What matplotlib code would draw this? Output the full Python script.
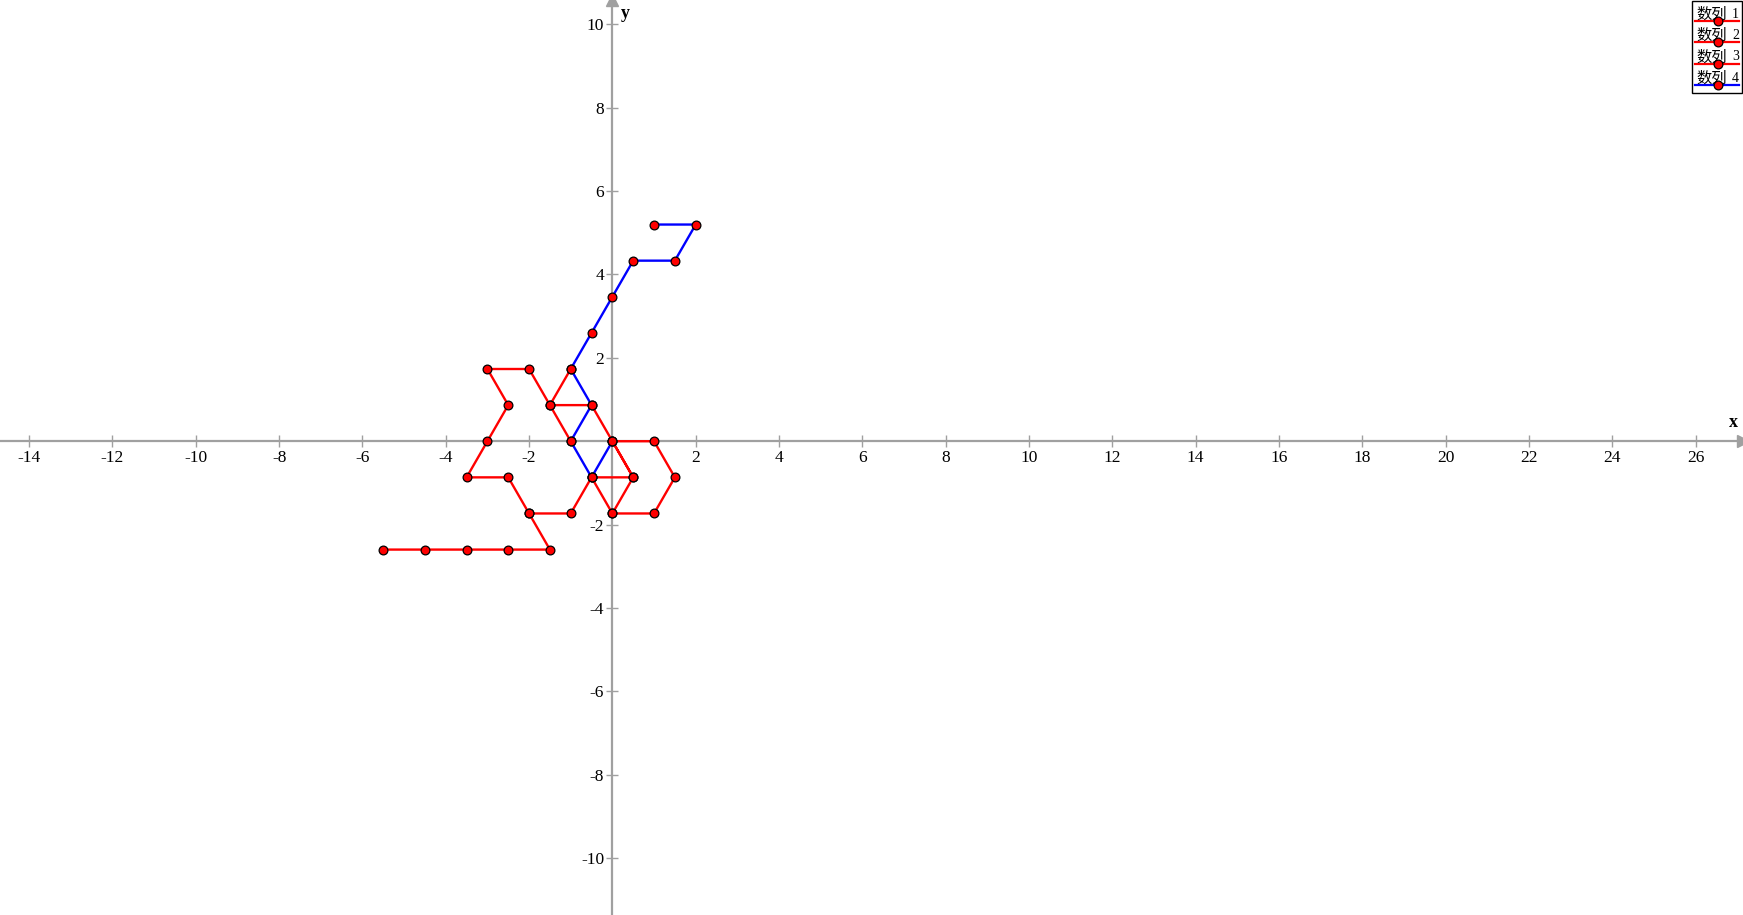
import matplotlib.pyplot as plt
from matplotlib.patches import Rectangle
from matplotlib.lines import Line2D

plt.rcParams['axes.unicode_minus'] = False

# series data (hexagonal lattice points)
s1_x = [-5.5, -4.5, -3.5, -2.5, -1.5, -2.0, -2.5, -3.5, -3.0, -2.5, -3.0, -2.0, -1.5, -1.0]
s1_y = [-2.598, -2.598, -2.598, -2.598, -2.598, -1.732, -0.866, -0.866, 0.0, 0.866, 1.732, 1.732, 0.866, 1.732]

s2_x = [-1.0, -1.5, -0.5, 0.0, 1.0, 1.5, 1.0, 0.0]
s2_y = [0.0, 0.866, 0.866, 0.0, 0.0, -0.866, -1.732, -1.732]

s3_x = [-2.0, -1.0, -0.5, 0.0, 0.5, 0.0, 0.5, -0.5]
s3_y = [-1.732, -1.732, -0.866, -1.732, -0.866, 0.0, -0.866, -0.866]

s4_x = [0.0, -0.5, -1.0, -0.5, -1.0, -0.5, 0.0, 0.5, 1.5, 2.0, 1.0]
s4_y = [0.0, -0.866, 0.0, 0.866, 1.732, 2.598, 3.464, 4.33, 4.33, 5.196, 5.196]

series_names = ["1", "2", "3", "4"]
series_colors = ["#ff0000", "#ff0000", "#ff0000", "#0000ff"]

x_ticks = [t for t in range(-14, 27, 2) if t != 0]
y_ticks = [t for t in range(-10, 11, 2) if t != 0]

W, H = 1743, 915
fig = plt.figure(figsize=(W / 100, H / 100), dpi=100)
ax = fig.add_axes([0, 0, 1, 1])
ax.set_xlim(-14.70, 27.14)
ax.set_ylim(-11.36, 10.58)

axis_gray = "#a0a0a0"
for side in ("top", "right"):
    ax.spines[side].set_visible(False)
for side in ("left", "bottom"):
    ax.spines[side].set_position("zero")
    ax.spines[side].set_color(axis_gray)
    ax.spines[side].set_linewidth(1.6)

ax.set_xticks(x_ticks)
ax.set_yticks(y_ticks)
ax.set_xticklabels([str(t) for t in x_ticks])
ax.set_yticklabels([str(t) for t in y_ticks])
ax.tick_params(direction="inout", length=8, width=1, color=axis_gray,
               labelsize=12.5, pad=2)
for lab in ax.get_xticklabels() + ax.get_yticklabels():
    lab.set_family("Liberation Serif")

# arrowheads and axis names
ax.plot(1, 0, ">", color=axis_gray, markersize=8, transform=ax.get_yaxis_transform(), clip_on=False)
ax.plot(0, 1, "^", color=axis_gray, markersize=8, transform=ax.get_xaxis_transform(), clip_on=False)
ax.text(0.9945, 0.25, "x", transform=ax.get_yaxis_transform(), ha="center", va="bottom",
        family="Liberation Serif", fontweight="bold", fontsize=13)
ax.text(0.2, 0.995, "y", transform=ax.get_xaxis_transform(), ha="left", va="top",
        family="Liberation Serif", fontweight="bold", fontsize=13)

for xs, ys, c in zip([s1_x, s2_x, s3_x, s4_x], [s1_y, s2_y, s3_y, s4_y], series_colors):
    ax.plot(xs, ys, color=c, linewidth=1.7, zorder=3)
for xs, ys in zip([s1_x, s2_x, s3_x, s4_x], [s1_y, s2_y, s3_y, s4_y]):
    ax.plot(xs, ys, linestyle="none", marker="o", markersize=6.3,
            markerfacecolor="#ff0000", markeredgecolor="black", markeredgewidth=0.9, zorder=4)

# legend drawn by hand, top right
def px(x, y):
    return x / W, 1 - y / H

x0, y0 = px(1692, 1)
x1, y1 = px(1742, 93)
fig.patches.append(Rectangle((x0, y1), x1 - x0, y0 - y1, transform=fig.transFigure,
                             facecolor="white", edgecolor="black", linewidth=1, zorder=10))
for i, (name, c) in enumerate(zip(series_names, series_colors)):
    ly = 20.7 + i * 21.4
    lx0, lyy = px(1695, ly)
    lx1, _ = px(1739, ly)
    fig.add_artist(Line2D([lx0, lx1], [lyy, lyy], color=c, linewidth=1.6, zorder=11))
    mx, _ = px(1717.7, ly)
    fig.add_artist(Line2D([mx], [lyy], marker="o", markersize=6.3, markerfacecolor="#ff0000",
                          markeredgecolor="black", markeredgewidth=0.9, zorder=12))
    tx, ty = px(1696, ly - 2)
    fig.text(tx, ty, "数列", family=["Noto Sans CJK SC", "DejaVu Sans"], fontsize=11,
             ha="left", va="baseline", zorder=11.5)
    nx, ny = px(1732, ly - 3)
    fig.text(nx, ny, name, family="Liberation Serif", fontsize=10,
             ha="left", va="baseline", zorder=12)

fig.savefig("out.png", dpi=100)
